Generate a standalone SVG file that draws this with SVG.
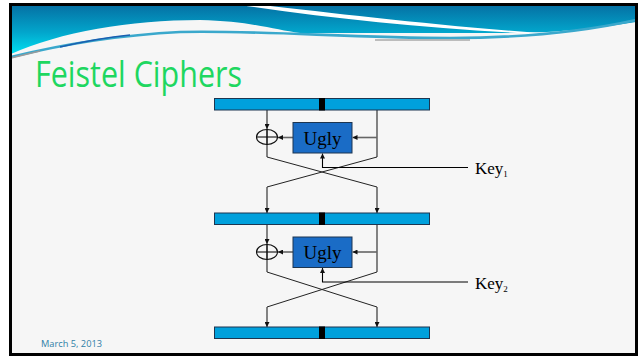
<svg xmlns="http://www.w3.org/2000/svg" width="640" height="356" viewBox="0 0 640 356">
  <defs>
    <linearGradient id="hdr" gradientUnits="userSpaceOnUse" x1="0" y1="5" x2="0" y2="55">
      <stop offset="0" stop-color="#0570a3"/>
      <stop offset="0.55" stop-color="#02a6cc"/>
      <stop offset="1" stop-color="#00e2f2"/>
    </linearGradient>
    <marker id="arr" viewBox="0 0 10 10" refX="10" refY="5" markerWidth="5" markerHeight="5" markerUnits="userSpaceOnUse" orient="auto">
      <path d="M0,0 L10,5 L0,10 Z" fill="#111"/>
    </marker>
    <style>
      .bar { fill: #00a0dc; stroke: #1d3550; stroke-width: 1; }
      .mid { fill: #000; }
      .box { fill: #1a6cc6; stroke: #1d3550; stroke-width: 1; }
      .boxtxt { font-family: "Liberation Serif", "DejaVu Serif", serif; font-size: 19px; fill: #000; text-anchor: middle; }
      .key { font-family: "Liberation Serif", "DejaVu Serif", serif; font-size: 17px; fill: #000; }
      .sub { font-size: 9px; }
      .v { fill: none; stroke: #444; stroke-width: 1.3; }
      .h { fill: none; stroke: #666; stroke-width: 1.6; }
      .d { fill: none; stroke: #222; stroke-width: 1; }
      .k { fill: none; stroke: #000; stroke-width: 1.1; }
      .xor { fill: none; stroke: #111; stroke-width: 1.1; }
    </style>
  </defs>

  <!-- slide background and frame -->
  <rect x="0" y="0" width="640" height="356" fill="#ffffff"/>
  <rect x="11" y="5" width="625" height="349" fill="#f6f6f6"/>

  <!-- header swoosh -->
  <path d="M11,5 H636 V22 C600,28 560,33 500,33 L300,33 C275,30 250,21 200,20 C130,20 60,32 11,54 Z" fill="url(#hdr)"/>
  <path d="M240,5 L262,5 C340,14 450,27 565,35 C450,31 340,20 240,5 Z" fill="#ffffff"/>
  <path d="M11,57 C60,45 120,35 180,32 C260,30 350,38 450,38 C540,38 600,28 636,20" fill="none" stroke="#3aa8cc" stroke-width="2.6"/>
  <path d="M60,47 C90,40 110,37 130,35" fill="none" stroke="#1a5fb0" stroke-width="1.6"/>
  <path d="M375,40 L470,40" fill="none" stroke="#a8a8a8" stroke-width="1.6"/>
  <path d="M11,58 L40,51" fill="none" stroke="#9a9a9a" stroke-width="1.4"/>

  <rect x="10.5" y="4.5" width="626" height="350" fill="none" stroke="#000" stroke-width="3"/>

  <!-- title and date -->
  <text x="35" y="87" font-family="'Open Sans', 'Liberation Sans', sans-serif" font-size="37" fill="#1ed760" textLength="207" lengthAdjust="spacingAndGlyphs">Feistel Ciphers</text>
  <text x="41" y="347" font-family="'Open Sans', 'Liberation Sans', sans-serif" font-size="9" fill="#2f7ea6" textLength="61" lengthAdjust="spacingAndGlyphs">March 5, 2013</text>

  <!-- connectors -->
  <g id="connectors">
    <!-- round 1 -->
    <line class="v" x1="267" y1="110" x2="267" y2="129" marker-end="url(#arr)"/>
    <line class="v" x1="267" y1="129" x2="267" y2="157"/>
    <line class="v" x1="377" y1="110" x2="377" y2="157"/>
    <line class="h" x1="377" y1="137.5" x2="352.5" y2="137.5" marker-end="url(#arr)"/>
    <line class="h" x1="293" y1="137.5" x2="278" y2="137.5" marker-end="url(#arr)"/>
    <line class="d" x1="267" y1="157" x2="377" y2="187"/>
    <line class="d" x1="377" y1="157" x2="267" y2="187"/>
    <line class="v" x1="377" y1="187" x2="377" y2="213" marker-end="url(#arr)"/>
    <line class="v" x1="267" y1="187" x2="267" y2="213" marker-end="url(#arr)"/>
    <polyline class="k" points="468,167.5 322.5,167.5 322.5,153.5" marker-end="url(#arr)"/>
    <!-- round 2 -->
    <line class="v" x1="267" y1="225" x2="267" y2="244" marker-end="url(#arr)"/>
    <line class="v" x1="267" y1="244" x2="267" y2="272"/>
    <line class="v" x1="377" y1="225" x2="377" y2="272"/>
    <line class="h" x1="377" y1="252" x2="352.5" y2="252" marker-end="url(#arr)"/>
    <line class="h" x1="293" y1="252" x2="278" y2="252" marker-end="url(#arr)"/>
    <line class="d" x1="267" y1="272" x2="377" y2="307"/>
    <line class="d" x1="377" y1="272" x2="267" y2="307"/>
    <line class="v" x1="377" y1="307" x2="377" y2="327" marker-end="url(#arr)"/>
    <line class="v" x1="267" y1="307" x2="267" y2="327" marker-end="url(#arr)"/>
    <polyline class="k" points="468,282 322.5,282 322.5,268" marker-end="url(#arr)"/>
  </g>

  <!-- blocks -->
  <g id="block0">
    <rect class="bar" x="214.5" y="98.5" width="215" height="11.5"/>
    <rect class="mid" x="319" y="98" width="6" height="12.5"/>
  </g>
  <g id="block1">
    <rect class="bar" x="214.5" y="213" width="215" height="11.5"/>
    <rect class="mid" x="319" y="212.5" width="6" height="12.5"/>
  </g>
  <g id="block2">
    <rect class="bar" x="214.5" y="327" width="215" height="11.5"/>
    <rect class="mid" x="319" y="326.5" width="6" height="12.5"/>
  </g>

  <!-- round functions -->
  <g id="ugly1">
    <rect class="box" x="293" y="122.5" width="59" height="30.5"/>
    <text class="boxtxt" x="322.5" y="144.5">Ugly</text>
  </g>
  <g id="ugly2">
    <rect class="box" x="293" y="237" width="59" height="30.5"/>
    <text class="boxtxt" x="322.5" y="259">Ugly</text>
  </g>

  <!-- XOR nodes -->
  <g id="xor1">
    <ellipse class="xor" cx="267" cy="137" rx="10.5" ry="7.5"/>
    <line class="xor" x1="256.5" y1="137" x2="277.5" y2="137"/>
    <line class="xor" x1="267" y1="129.5" x2="267" y2="144.5"/>
  </g>
  <g id="xor2">
    <ellipse class="xor" cx="267" cy="252" rx="10.5" ry="7.5"/>
    <line class="xor" x1="256.5" y1="252" x2="277.5" y2="252"/>
    <line class="xor" x1="267" y1="244.5" x2="267" y2="259.5"/>
  </g>

  <!-- key labels -->
  <g id="key1">
    <text class="key" x="475" y="174">Key<tspan class="sub" dy="3">1</tspan></text>
  </g>
  <g id="key2">
    <text class="key" x="475" y="288.5">Key<tspan class="sub" dy="3">2</tspan></text>
  </g>
</svg>
